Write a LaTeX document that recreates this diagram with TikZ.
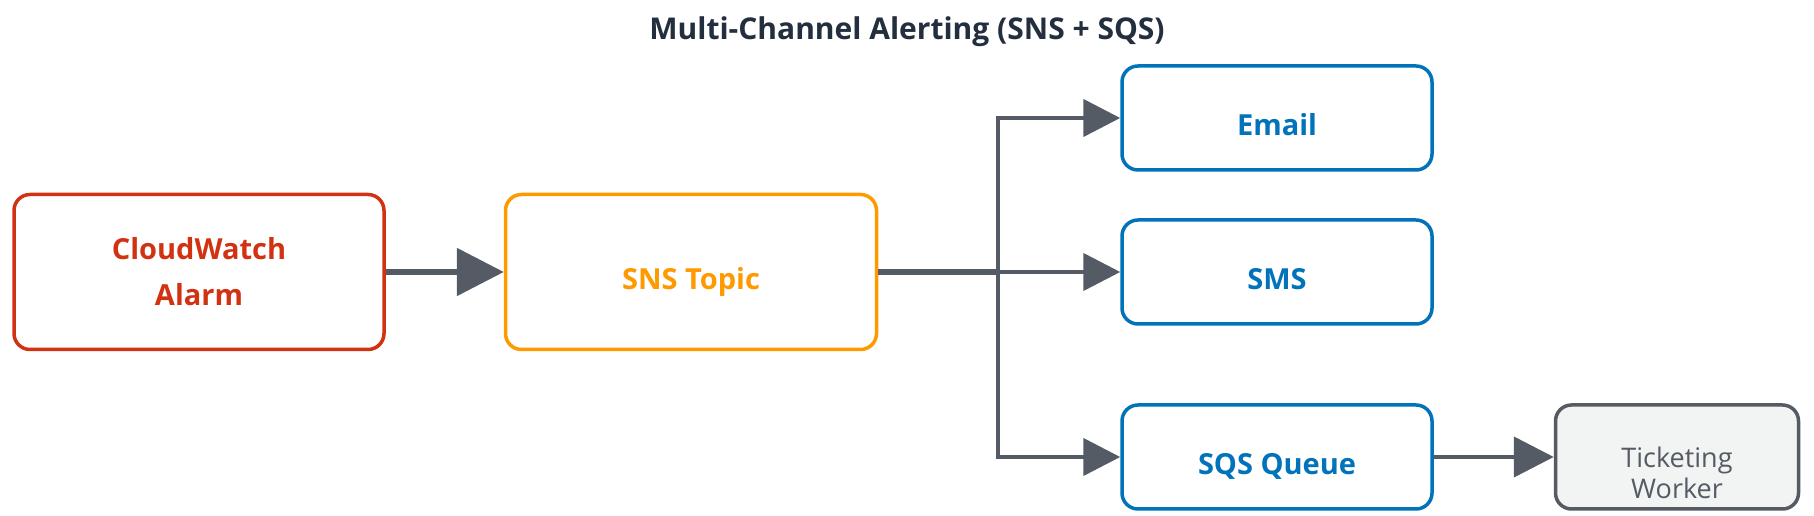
\documentclass[tikz,border=0pt]{standalone}
\usepackage{fontspec}
\setmainfont{Open Sans}
\usetikzlibrary{arrows.meta}

\definecolor{alarmred}{HTML}{D13212}
\definecolor{topicorange}{HTML}{FF9900}
\definecolor{channelblue}{HTML}{0073BB}
\definecolor{flowgray}{HTML}{545B64}
\definecolor{workerfill}{HTML}{F2F3F3}
\definecolor{titleink}{HTML}{232F3E}

\begin{document}
\begin{tikzpicture}[x=1pt,y=1pt,
        box/.style={draw,line width=3.5pt,rounded corners=16pt,fill=white,
            minimum height=104pt,align=center,
            font=\bfseries\fontsize{29}{46}\selectfont},
        oneline/.style={text height=44pt,text depth=8pt},
        flow/.style={draw=flowgray,line width=4.5pt,
            -{Triangle[length=37pt,width=37pt]}}]
\useasboundingbox (0,0) rectangle (1814,516);

\node[text=titleink, font=\bfseries\fontsize{30}{34}\selectfont] (title) at (907,484)
    {Multi-Channel Alerting (SNS + SQS)};

% source and topic
\node[box, draw=alarmred, text=alarmred, minimum width=370pt, minimum height=155pt]
    (alarm) at (199,244) {CloudWatch\\Alarm};
\node[box, oneline, draw=topicorange, text=topicorange, minimum width=371pt, minimum height=155pt]
    (topic) at (691,244) {SNS Topic};

% subscribers
\node[box, oneline, draw=channelblue, text=channelblue, minimum width=310pt] (email) at (1277,398) {Email};
\node[box, oneline, draw=channelblue, text=channelblue, minimum width=310pt] (sms) at (1277,244) {SMS};
\node[box, oneline, draw=channelblue, text=channelblue, minimum width=310pt] (queue) at (1277,59) {SQS Queue};

\node[box, draw=flowgray, fill=workerfill, minimum width=243pt] (worker) at (1677,59) {};
\node[text=flowgray, align=center, font=\fontsize{27}{31}\selectfont]
    (workertext) at (1677,43) {Ticketing\\Worker};

\coordinate (fork) at (998,244);

\draw[flow, line width=5.5pt, -{Triangle[length=47pt,width=47pt]}] (alarm) -- (topic);
\draw[draw=flowgray, line width=5.5pt] (topic) -- (fork);
\draw[flow] (fork) |- (email);
\draw[flow] (fork) -- (sms);
\draw[flow] (fork) |- (queue);
\draw[flow, -{Triangle[length=40pt,width=40pt]}] (queue) -- (worker);
\end{tikzpicture}
\end{document}
